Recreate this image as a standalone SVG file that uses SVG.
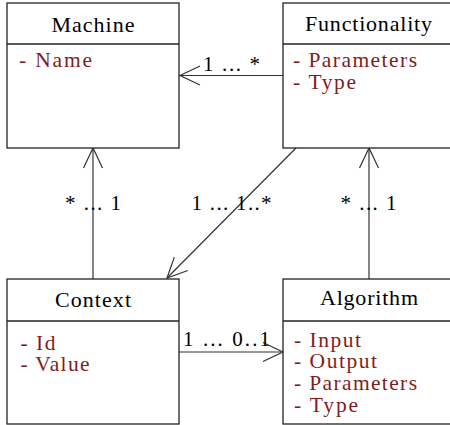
<svg xmlns="http://www.w3.org/2000/svg" width="450" height="425" viewBox="0 0 450 425">
<style>
text{font-family:'Liberation Serif','Times New Roman',Tinos,'Noto Serif','DejaVu Serif',FreeSerif,'Nimbus Roman',Georgia,serif}
.box{fill:#fff;stroke:#222;stroke-width:1.3}
.sep{stroke:#222;stroke-width:1.3}
.title{font-size:22px;fill:#000;text-anchor:middle}
.attr{font-size:21.5px;fill:#7f1d1d}
.lbl{font-size:21px;fill:#000}
.conn{fill:none;stroke:#333;stroke-width:1.2}
</style>
<defs>
<marker id="open" markerUnits="userSpaceOnUse" viewBox="-23 -11 24 22" markerWidth="24" markerHeight="22" refX="0" refY="0" orient="auto" overflow="visible">
<path d="M-20,-9.5 L0,0 L-20,9.5" fill="none" stroke="#333" stroke-width="1.2"/>
</marker>
</defs>
<g id="connectors">
<line class="conn" x1="283" y1="75.5" x2="180" y2="75.5" marker-end="url(#open)"/>
<line class="conn" x1="93" y1="279" x2="93" y2="148" marker-end="url(#open)"/>
<line class="conn" x1="296" y1="148" x2="167" y2="278" marker-end="url(#open)"/>
<line class="conn" x1="369" y1="279" x2="369" y2="148" marker-end="url(#open)"/>
<line class="conn" x1="179" y1="352" x2="283" y2="352" marker-end="url(#open)"/>
<text class="lbl" x="203" y="71" textLength="57" lengthAdjust="spacing">1 ... *</text>
<text class="lbl" x="65" y="210" textLength="56" lengthAdjust="spacing">* ... 1</text>
<text class="lbl" x="191.5" y="210" textLength="80" lengthAdjust="spacing">1 ... 1..*</text>
<text class="lbl" x="340.5" y="210" textLength="56" lengthAdjust="spacing">* ... 1</text>
<text class="lbl" x="183" y="346" textLength="87" lengthAdjust="spacing">1 ... 0..1</text>
</g>
<g id="machine">
<rect class="box" x="7" y="3" width="172" height="145"/>
<line class="sep" x1="7" y1="44" x2="179" y2="44"/>
<text class="title" x="93" y="32" textLength="83" lengthAdjust="spacing">Machine</text>
<text class="attr" x="19" y="67" textLength="73" lengthAdjust="spacing">- Name</text>
</g>
<g id="functionality">
<rect class="box" x="283" y="3" width="172" height="145"/>
<line class="sep" x1="283" y1="44" x2="455" y2="44"/>
<text class="title" x="368.5" y="31" textLength="127" lengthAdjust="spacing">Functionality</text>
<text class="attr" x="293" y="67" textLength="124" lengthAdjust="spacing">- Parameters</text>
<text class="attr" x="293" y="89" textLength="63" lengthAdjust="spacing">- Type</text>
</g>
<g id="context">
<rect class="box" x="7" y="279" width="172" height="145"/>
<line class="sep" x1="7" y1="321" x2="179" y2="321"/>
<text class="title" x="93" y="307" textLength="76" lengthAdjust="spacing">Context</text>
<text class="attr" x="20.5" y="350" textLength="35" lengthAdjust="spacing">- Id</text>
<text class="attr" x="20.5" y="371" textLength="69" lengthAdjust="spacing">- Value</text>
</g>
<g id="algorithm">
<rect class="box" x="283" y="279" width="172" height="145"/>
<line class="sep" x1="283" y1="321" x2="455" y2="321"/>
<text class="title" x="369" y="305" textLength="98" lengthAdjust="spacing">Algorithm</text>
<text class="attr" x="294" y="347" textLength="67" lengthAdjust="spacing">- Input</text>
<text class="attr" x="294" y="368" textLength="83" lengthAdjust="spacing">- Output</text>
<text class="attr" x="294" y="390" textLength="123" lengthAdjust="spacing">- Parameters</text>
<text class="attr" x="294" y="412" textLength="64" lengthAdjust="spacing">- Type</text>
</g>
</svg>
